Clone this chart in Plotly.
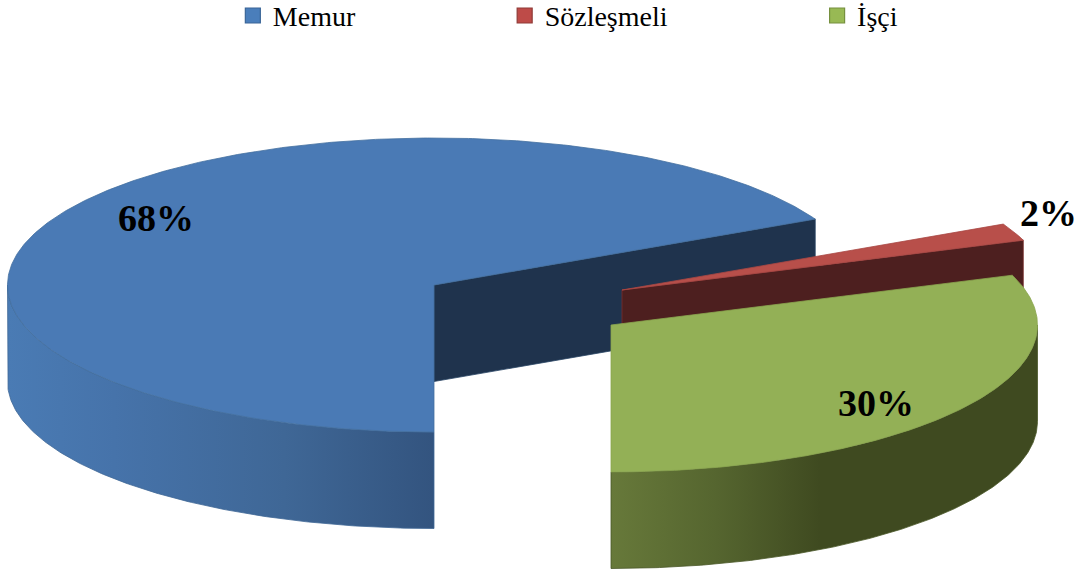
import numpy as np
import plotly.graph_objects as go

# --- data
categories = ["Memur", "Sözleşmeli", "İşçi"]
shares = [67.6, 1.9, 30.5]
share_labels = ["68%", "2%", "30%"]

# --- styles and projection (pixel space of the 1086x574 page)
top_colors = ["#4a7ab5", "#b84f4a", "#93b056"]
legend_colors = ["#4a7ebb", "#be4b48", "#98b954"]
legend_edges = ["#3a6597", "#8f3a37", "#76903f"]
wall_colors = ["#1f334d", "#4d1f1f", "#3f4a20"]
centers = [(434, 285), (622, 290), (611, 325)]
RX, RY, DEPTH = 426.5, 147, 96.5
SERIF = "Liberation Serif"

blue_rim = [[0, "#4a7bb4"], [0.25, "#4673aa"], [0.65, "#3f6796"], [1, "#33547f"]]
green_rim = [[0, "#67793a"], [0.25, "#55652f"], [0.49, "#3f4a20"], [1, "#3f4a20"]]

# slice boundaries, clockwise from 12 o'clock; first slice starts at 6 o'clock
edges = np.cumsum([0] + shares) / sum(shares) * 360 + 180


def pt(center, deg, drop=0.0):
    a = np.radians(deg)
    return center[0] + RX * np.sin(a), center[1] - RY * np.cos(a) + drop


def arc(center, a0, a1, drop=0.0):
    n = max(int(abs(a1 - a0) * 2), 2)
    return pt(center, np.linspace(a0, a1, n), drop)


def poly(xs, ys, fill=None, line=None, grad=None, width=0.8):
    kw = dict(fillgradient=grad) if grad else dict(fillcolor=fill)
    return go.Scatter(x=list(xs), y=list(ys), mode="lines", fill="toself",
                      line=dict(color=line, width=width), hoverinfo="skip",
                      showlegend=False, **kw)


def wedge(center, a0, a1, fill, line):
    ax, ay = arc(center, a0, a1)
    return poly(np.r_[center[0], ax, center[0]], np.r_[center[1], ay, center[1]], fill, line)


def rim(center, a0, a1, scale, line):
    ux, uy = arc(center, a0, a1)
    lx, ly = arc(center, a1, a0, DEPTH)
    return poly(np.r_[ux, lx, ux[0]], np.r_[uy, ly, uy[0]], line=line,
                grad=dict(type="horizontal", colorscale=scale))


def cut(center, deg, fill, line):
    tx, ty = pt(center, deg)
    cx, cy = center
    return poly([cx, tx, tx, cx, cx], [cy, ty, ty + DEPTH, cy + DEPTH, cy], fill, line)


fig = go.Figure()
# blue slice
fig.add_trace(rim(centers[0], edges[0], 270, blue_rim, "#3f6796"))
fig.add_trace(cut(centers[0], edges[1] - 360, wall_colors[0], "#2a4565"))
fig.add_trace(wedge(centers[0], edges[0], edges[1], top_colors[0], "#44709f"))
# red slice
fig.add_trace(cut(centers[1], edges[2] - 360, wall_colors[1], "#7a2f2d"))
fig.add_trace(wedge(centers[1], edges[1] - 360, edges[2] - 360, top_colors[1], "#a84744"))
# green slice
fig.add_trace(rim(centers[2], 90, 180, green_rim, "#4a5828"))
fig.add_trace(wedge(centers[2], edges[2] - 360, edges[3] - 360, top_colors[2], "#8aa64f"))

# legend: one small legend per entry so the gaps follow the text widths
legend_x = [0.2144, 0.4647, 0.7524]
layout_legends = {}
for i, name in enumerate(categories):
    key = "legend" if i == 0 else f"legend{i + 1}"
    fig.add_trace(go.Scatter(
        x=[None], y=[None], mode="markers", name=name, legend=key,
        marker=dict(symbol="square", size=15, color=legend_colors[i],
                    line=dict(color=legend_edges[i], width=1.2)),
    ))
    layout_legends[key] = dict(
        x=legend_x[i], xanchor="left", y=1.016, yanchor="top", orientation="h",
        itemwidth=30, bgcolor="rgba(0,0,0,0)", borderwidth=0,
        font=dict(family=SERIF, size=28, color="#000000"),
    )

label_xy = [(155.5, 218), (1048.5, 213), (876, 403)]
annotations = [
    dict(x=x, y=y, text=f"<b>{t}</b>", showarrow=False, xanchor="center", yanchor="middle",
         font=dict(family=SERIF, size=38, color="#000000"))
    for (x, y), t in zip(label_xy, share_labels)
]

axis = dict(visible=False, fixedrange=True)
fig.update_layout(
    width=1086, height=574, margin=dict(l=0, r=0, t=0, b=0, autoexpand=False),
    paper_bgcolor="#ffffff", plot_bgcolor="#ffffff", showlegend=True,
    xaxis=dict(range=[0, 1086], **axis),
    yaxis=dict(range=[574, 0], **axis),
    annotations=annotations,
    **layout_legends,
)
fig.write_html("out.html", config=dict(displayModeBar=False),
               post_script="document.body.style.margin='0';")
